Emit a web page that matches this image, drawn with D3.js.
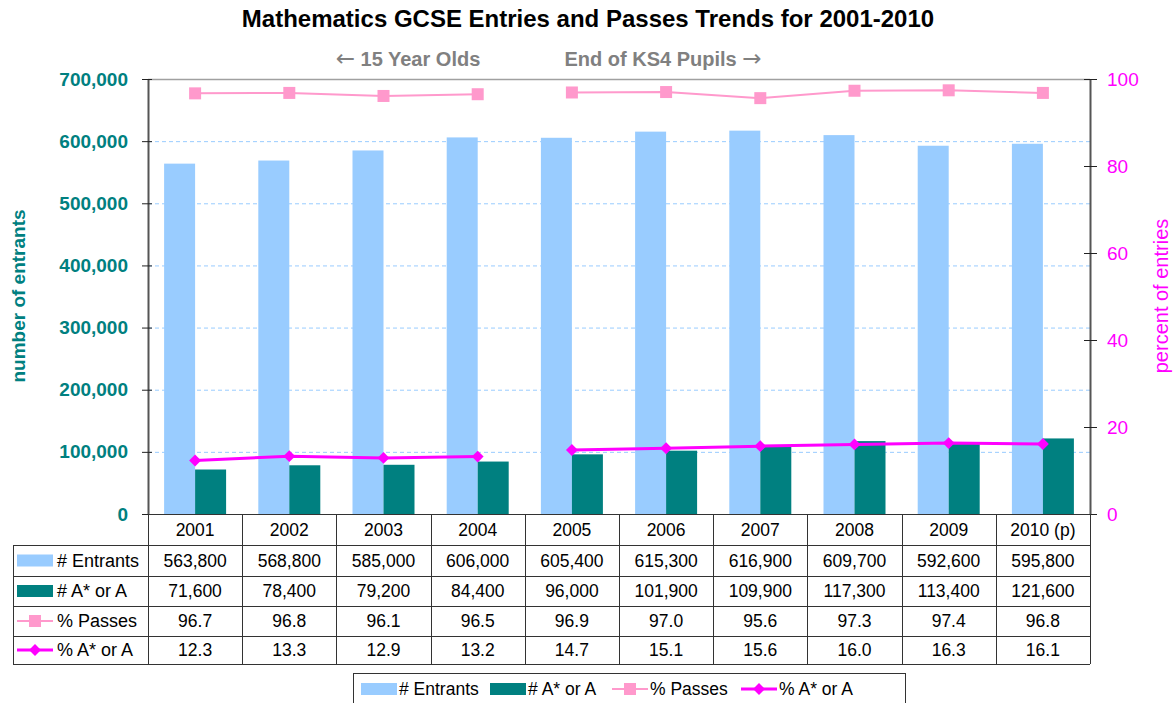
<!DOCTYPE html>
<html>
<head>
<meta charset="utf-8">
<script src="https://cdn.jsdelivr.net/npm/d3@7"></script>
<style>
  body { margin: 0; background: #fff; }
  svg { font-family: "Liberation Sans", Arial, sans-serif; }
  .arrow { font-family: "DejaVu Sans", sans-serif; font-weight: normal; font-size: 23px; }
</style>
</head>
<body>
<svg id="chart" width="1175" height="703"></svg>
<script>
var years = ["2001", "2002", "2003", "2004", "2005", "2006", "2007", "2008", "2009", "2010 (p)"];
var entrants = [563800, 568800, 585000, 606000, 605400, 615300, 616900, 609700, 592600, 595800];
var topGrades = [71600, 78400, 79200, 84400, 96000, 101900, 109900, 117300, 113400, 121600];
var pctPasses = [96.7, 96.8, 96.1, 96.5, 96.9, 97.0, 95.6, 97.3, 97.4, 96.8];
var pctTop = [12.3, 13.3, 12.9, 13.2, 14.7, 15.1, 15.6, 16.0, 16.3, 16.1];
var leftTicks = [0, 100000, 200000, 300000, 400000, 500000, 600000, 700000];
var rightTicks = [0, 20, 40, 60, 80, 100];
// the line breaks where the cohort definition changes
var segments = [[0, 4], [4, 10]];

var colEntr = "#99CCFF", colTop = "#008080", colPass = "#FF99CC", colPctTop = "#FF00FF";

var margin = {left: 148, right: 1090, top: 79, bottom: 514};

var svg = d3.select("#chart");
var fmt = d3.format(",");

var x = d3.scaleBand()
    .domain(years)
    .range([margin.left, margin.right])
    .paddingInner(0);

var y = d3.scaleLinear()
    .domain([0, 700000])
    .range([margin.bottom, margin.top]);

var y2 = d3.scaleLinear()
    .domain([0, 100])
    .range([margin.bottom, margin.top]);

var barW = 31;

// gridlines
svg.append("g")
  .selectAll("line")
  .data(leftTicks.filter(function(d) { return d > 0 && d < 700000; }))
  .enter().append("line")
    .attr("x1", margin.left).attr("x2", margin.right)
    .attr("y1", function(d) { return y(d) + 0.5; })
    .attr("y2", function(d) { return y(d) + 0.5; })
    .attr("stroke", "#99CCFF")
    .attr("stroke-dasharray", "4,3");

svg.append("line")
    .attr("x1", margin.left).attr("x2", margin.right)
    .attr("y1", margin.top + 0.5).attr("y2", margin.top + 0.5)
    .attr("stroke", "#A0A0A0").attr("stroke-width", 1.5);

// bars
svg.append("g").selectAll("rect")
  .data(entrants)
  .enter().append("rect")
    .attr("x", function(d, i) { return x(years[i]) + x.bandwidth() / 2 - barW; })
    .attr("y", function(d) { return y(d); })
    .attr("width", barW)
    .attr("height", function(d) { return y(0) - y(d); })
    .attr("fill", colEntr);

svg.append("g").selectAll("rect")
  .data(topGrades)
  .enter().append("rect")
    .attr("x", function(d, i) { return x(years[i]) + x.bandwidth() / 2; })
    .attr("y", function(d) { return y(d); })
    .attr("width", barW)
    .attr("height", function(d) { return y(0) - y(d); })
    .attr("fill", colTop);

// lines
var cx = function(i) { return x(years[i]) + x.bandwidth() / 2; };

function drawLine(values, color, width) {
  var line = d3.line()
      .x(function(d) { return cx(d); })
      .y(function(d) { return y2(values[d]); });
  segments.forEach(function(s) {
    svg.append("path")
        .datum(d3.range(s[0], s[1]))
        .attr("d", line)
        .attr("fill", "none")
        .attr("stroke", color)
        .attr("stroke-width", width);
  });
}

drawLine(pctPasses, colPass, 2);
drawLine(pctTop, colPctTop, 3);

svg.append("g").selectAll("rect")
  .data(pctPasses)
  .enter().append("rect")
    .attr("x", function(d, i) { return cx(i) - 6; })
    .attr("y", function(d) { return y2(d) - 6; })
    .attr("width", 12).attr("height", 12)
    .attr("fill", colPass);

svg.append("g").selectAll("path")
  .data(pctTop)
  .enter().append("path")
    .attr("d", d3.symbol().type(d3.symbolDiamond2).size(90))
    .attr("transform", function(d, i) { return "translate(" + cx(i) + "," + y2(d) + ")"; })
    .attr("fill", colPctTop);

// left axis
var leftAxis = svg.append("g")
    .attr("transform", "translate(" + margin.left + ",0)")
    .call(d3.axisLeft(y).tickValues(leftTicks).tickFormat(fmt).tickSizeInner(6).tickSizeOuter(0).tickPadding(14));
leftAxis.select(".domain").attr("stroke", "#555").attr("stroke-width", 2);
leftAxis.selectAll(".tick line").attr("stroke", "#222").attr("x2", -6).attr("x1", 4);
leftAxis.selectAll(".tick text")
    .attr("fill", colTop)
    .style("font-size", "19px")
    .style("font-weight", "bold");

// right axis
var rightAxis = svg.append("g")
    .attr("transform", "translate(" + margin.right + ",0)")
    .call(d3.axisRight(y2).tickValues(rightTicks).tickSizeInner(6).tickSizeOuter(0).tickPadding(11));
rightAxis.select(".domain").attr("stroke", "#555").attr("stroke-width", 2);
rightAxis.selectAll(".tick line").attr("stroke", "#222").attr("x1", -6).attr("x2", 7);
rightAxis.selectAll(".tick text")
    .attr("fill", colPctTop)
    .style("font-size", "19px");

// axis titles
svg.append("text")
    .attr("transform", "translate(25,296) rotate(-90)")
    .attr("text-anchor", "middle")
    .attr("fill", colTop)
    .style("font-size", "19px")
    .style("font-weight", "bold")
    .text("number of entrants");

svg.append("text")
    .attr("transform", "translate(1168,296) rotate(-90)")
    .attr("text-anchor", "middle")
    .attr("fill", colPctTop)
    .style("font-size", "20px")
    .text("percent of entries");

// title and notes
svg.append("text")
    .attr("x", 588).attr("y", 27)
    .attr("text-anchor", "middle")
    .style("font-size", "24px")
    .style("font-weight", "bold")
    .text("Mathematics GCSE Entries and Passes Trends for 2001-2010");

var note1 = svg.append("text")
    .attr("x", 408).attr("y", 66)
    .attr("text-anchor", "middle")
    .attr("fill", "#808080")
    .style("font-size", "20px")
    .style("font-weight", "bold");
note1.append("tspan").attr("class", "arrow").text("\u2190");
note1.append("tspan").text(" 15 Year Olds");

var note2 = svg.append("text")
    .attr("x", 663).attr("y", 66)
    .attr("text-anchor", "middle")
    .attr("fill", "#808080")
    .style("font-size", "20px")
    .style("font-weight", "bold");
note2.append("tspan").text("End of KS4 Pupils ");
note2.append("tspan").attr("class", "arrow").text("\u2192");

// data table
var rowY = [514, 545, 576, 606, 636, 664];
var tableLeft = 13;
var rows = [
  {name: "# Entrants", values: entrants.map(fmt), kind: "bar", color: colEntr},
  {name: "# A* or A", values: topGrades.map(fmt), kind: "bar", color: colTop},
  {name: "% Passes", values: pctPasses.map(d3.format(".1f")), kind: "square", color: colPass},
  {name: "% A* or A", values: pctTop.map(d3.format(".1f")), kind: "diamond", color: colPctTop}
];

var table = svg.append("g").attr("stroke", "#333").attr("stroke-width", 1);

table.selectAll("line.h")
  .data(rowY)
  .enter().append("line")
    .attr("x1", function(d, i) { return i < 1 ? margin.left : tableLeft; })
    .attr("x2", margin.right)
    .attr("y1", function(d) { return d + 0.5; })
    .attr("y2", function(d) { return d + 0.5; });

var colEdges = years.map(function(d) { return x(d); }).concat([margin.right]);
table.selectAll("line.v")
  .data(colEdges)
  .enter().append("line")
    .attr("x1", function(d) { return Math.round(d) + 0.5; })
    .attr("x2", function(d) { return Math.round(d) + 0.5; })
    .attr("y1", rowY[0])
    .attr("y2", rowY[5]);

table.append("line")
    .attr("x1", tableLeft + 0.5).attr("x2", tableLeft + 0.5)
    .attr("y1", rowY[1]).attr("y2", rowY[5]);

svg.append("g").selectAll("text")
  .data(years)
  .enter().append("text")
    .attr("x", function(d) { return x(d) + x.bandwidth() / 2; })
    .attr("y", (rowY[0] + rowY[1]) / 2 + 6)
    .attr("text-anchor", "middle")
    .style("font-size", "17.5px")
    .text(function(d) { return d; });

rows.forEach(function(r, ri) {
  var top = rowY[ri + 1], bot = rowY[ri + 2], mid = (top + bot) / 2;
  var g = svg.append("g");
  g.selectAll("text")
    .data(r.values)
    .enter().append("text")
      .attr("x", function(d, i) { return cx(i); })
      .attr("y", mid + 6)
      .attr("text-anchor", "middle")
      .style("font-size", "17.5px")
      .text(function(d) { return d; });
  drawKey(g, r, 17, mid);
  g.append("text")
      .attr("x", 57).attr("y", mid + 6)
      .style("font-size", "18px")
      .text(r.name);
});

function drawKey(g, r, x0, mid) {
  if (r.kind === "bar") {
    g.append("rect")
        .attr("x", x0).attr("y", mid - 6)
        .attr("width", 36).attr("height", 12)
        .attr("fill", r.color);
  } else {
    g.append("line")
        .attr("x1", x0).attr("x2", x0 + 36)
        .attr("y1", mid).attr("y2", mid)
        .attr("stroke", r.color).attr("stroke-width", r.kind === "square" ? 2 : 3);
    if (r.kind === "square") {
      g.append("rect")
          .attr("x", x0 + 18 - 6).attr("y", mid - 6)
          .attr("width", 12).attr("height", 12)
          .attr("fill", r.color);
    } else {
      g.append("path")
          .attr("d", d3.symbol().type(d3.symbolDiamond2).size(90))
          .attr("transform", "translate(" + (x0 + 18) + "," + mid + ")")
          .attr("fill", r.color);
    }
  }
}

// legend
var legend = svg.append("g");
legend.append("rect")
    .attr("x", 353.5).attr("y", 673.5)
    .attr("width", 552).attr("height", 36)
    .attr("fill", "none")
    .attr("stroke", "#333");

var legendX = [361, 490, 612, 741];
rows.forEach(function(r, i) {
  drawKey(legend, r, legendX[i], 689);
  legend.append("text")
      .attr("x", legendX[i] + 38).attr("y", 695)
      .style("font-size", "17.5px")
      .text(r.name);
});
</script>
</body>
</html>
